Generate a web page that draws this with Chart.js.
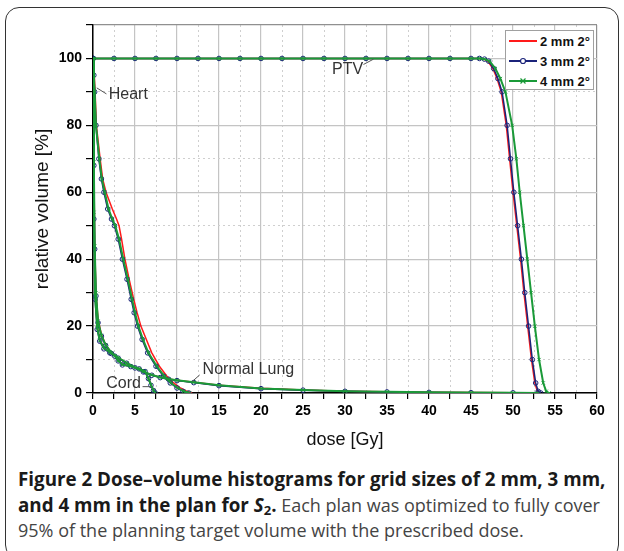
<!DOCTYPE html>
<html>
<head>
<meta charset="utf-8">
<script src="https://cdn.jsdelivr.net/npm/chart.js@4.4.1/dist/chart.umd.min.js"></script>
<style>
  html, body { margin: 0; padding: 0; background: #fff; }
  body { width: 624px; height: 551px; position: relative; overflow: hidden; }
  #frame { position: absolute; left: 5px; top: 7px; width: 614px; height: 552px; border: 1.5px solid #333; border-radius: 14px; box-sizing: border-box; }
  #wrap { position: absolute; left: 0; top: 0; width: 624px; height: 460px; }
  #legend { position: absolute; left: 505px; top: 30px; width: 89px; height: 60px; border: 1px solid #a0a0a0; background: #fff; box-sizing: border-box; }
  .row { position: absolute; left: 3px; height: 14px; display: flex; align-items: center; font: bold 13px 'Liberation Sans', Arial, sans-serif; color: #111; white-space: nowrap; }
  .row svg { margin-right: 3px; }
  #caption { position: absolute; left: 18px; top: 467px; font-family: 'Open Sans', sans-serif; font-size: 18px; line-height: 25.5px; color: #444; white-space: nowrap; }
  #caption b { color: #1a1a1a; font-size: 18.8px; }
  #caption sub { font-size: 13px; vertical-align: -3px; line-height: 0; }
</style>
</head>
<body>
<div id="frame"></div>
<div id="wrap"><canvas id="dvh" width="624" height="460"></canvas></div>
<div id="legend"></div>
<div id="caption"><b>Figure 2 Dose–volume histograms for grid sizes of 2 mm, 3 mm,</b><br><b>and 4 mm in the plan for <i>S</i><sub>2</sub>.</b> Each plan was optimized to fully cover<br>95% of the planning target volume with the prescribed dose.</div>
<script>
const gridNames = ['2 mm 2°', '3 mm 2°', '4 mm 2°'];
const gridColors = ['#ff1a1a', '#1b237a', '#1a9a38'];
const gridMarkers = [false, 'circle', 'crossRot'];

// PTV
const ptvVol = [100, 100, 100, 100, 100, 100, 100, 100, 100, 100, 100, 100, 100, 100, 100, 100, 100, 100, 100, 100,
  99.8, 99.2, 97, 94, 90, 80, 70, 60, 50, 40, 30, 20, 10, 3, 0.5, 0];
const ptvDose2 = [0, 2.5, 5, 7.5, 10, 12.5, 15, 17.5, 20, 22.5, 25, 27.5, 30, 32.5, 35, 37.5, 40, 42.5, 45, 46,
  46.5, 47, 47.6, 48.1, 48.6, 49.2, 49.6, 50.0, 50.45, 50.9, 51.3, 51.75, 52.2, 52.6, 52.9, 53.2];
const ptvDose3 = [0, 2.5, 5, 7.5, 10, 12.5, 15, 17.5, 20, 22.5, 25, 27.5, 30, 32.5, 35, 37.5, 40, 42.5, 45, 46,
  46.6, 47.1, 47.7, 48.2, 48.7, 49.3, 49.7, 50.1, 50.55, 51.0, 51.4, 51.85, 52.3, 52.7, 53.0, 53.3];
const ptvDose4 = [0, 2.5, 5, 7.5, 10, 12.5, 15, 17.5, 20, 22.5, 25, 27.5, 30, 32.5, 35, 37.5, 40, 42.5, 45, 46,
  46.6, 47.2, 47.9, 48.5, 49.1, 49.9, 50.4, 50.8, 51.25, 51.7, 52.15, 52.6, 53.1, 53.6, 53.95, 54.3];

// Heart
const heartVol = [100, 95, 90, 80, 70, 64, 60, 55, 52, 50, 46, 40, 34, 28, 24, 20, 16, 12, 8, 5, 3, 1.5, 0.5, 0];
const heartDose2 = [0, 0.15, 0.25, 0.4, 0.85, 1.15, 1.55, 2.3, 2.8, 3.1, 3.4, 3.8, 4.3, 4.85, 5.25, 5.7, 6.35, 7.0, 7.9, 8.8, 9.6, 10.4, 11.2, 11.8];
const heartDose3 = [0, 0.1, 0.2, 0.35, 0.7, 1.0, 1.3, 1.75, 2.2, 2.55, 3.0, 3.5, 4.05, 4.55, 4.9, 5.3, 5.85, 6.5, 7.5, 8.4, 9.2, 10.0, 10.7, 11.4];
const heartDose4 = [0, 0.1, 0.2, 0.35, 0.75, 1.05, 1.4, 1.85, 2.3, 2.65, 3.1, 3.6, 4.15, 4.65, 5.0, 5.4, 5.95, 6.6, 7.6, 8.5, 9.3, 10.1, 10.8, 11.5];

// Normal lung
const lungDose = [0, 0.1, 0.2, 0.35, 0.6, 1, 1.5, 2.2, 3, 4, 5, 6, 7, 8, 9, 10, 12, 15, 20, 25, 30, 35, 40, 45, 50, 53];
const lungVol2 = [100, 70, 45, 30, 22, 17.5, 14.5, 12, 10.5, 9, 7.6, 6.4, 5.4, 4.7, 4.2, 3.8, 3.2, 2.3, 1.4, 0.9, 0.55, 0.35, 0.2, 0.12, 0.06, 0];
const lungVol3 = [100, 68, 43, 29, 21, 17, 14.2, 11.8, 10.4, 8.9, 7.5, 6.3, 5.3, 4.6, 4.1, 3.7, 3.1, 2.2, 1.3, 0.85, 0.5, 0.32, 0.18, 0.1, 0.05, 0];
const lungVol4 = [100, 69, 44, 30, 21.5, 17.2, 14.4, 12, 10.6, 9.0, 7.6, 6.4, 5.4, 4.7, 4.2, 3.8, 3.2, 2.3, 1.35, 0.9, 0.55, 0.35, 0.2, 0.12, 0.06, 0];

// Cord
const cordDose = [0, 0.1, 0.25, 0.5, 0.8, 1.3, 2, 2.6, 3.0, 3.5, 4.5, 5.5, 6.2, 6.6, 6.9, 7.2, 7.4];
const cordVol2 = [100, 55, 30, 20, 16, 13.5, 12.3, 11.2, 9.8, 8.6, 8.0, 7.3, 6.5, 4.5, 2.5, 0.8, 0];
const cordVol3 = [100, 52, 28, 19, 15.5, 13.2, 12.0, 11.0, 9.6, 8.4, 7.9, 7.2, 6.4, 4.3, 2.3, 0.7, 0];
const cordVol4 = [100, 54, 29, 19.5, 15.8, 13.4, 12.2, 11.1, 9.7, 8.5, 8.0, 7.3, 6.5, 4.4, 2.4, 0.8, 0];

// curve labels, in dose / volume units
const notes = [
  { text: 'PTV', x: 30.3, y: 96.6, from: [32.2, 98.2], to: [33.4, 99.8] },
  { text: 'Heart', x: 4.2, y: 89.2, from: [1.6, 89.4], to: [0.45, 91.2] },
  { text: 'Normal Lung', x: 18.5, y: 7.0, from: [12.7, 5.4], to: [11.8, 3.4] },
  { text: 'Cord', x: 3.65, y: 2.9, from: [5.9, 1.9], to: [6.9, 1.9] }
];

function pts(xs, ys) {
  return xs.map((x, i) => ({ x: x, y: ys[i] }));
}

const curves = [
  [pts(ptvDose2, ptvVol), pts(heartDose2, heartVol), pts(lungDose, lungVol2), pts(cordDose, cordVol2)],
  [pts(ptvDose3, ptvVol), pts(heartDose3, heartVol), pts(lungDose, lungVol3), pts(cordDose, cordVol3)],
  [pts(ptvDose4, ptvVol), pts(heartDose4, heartVol), pts(lungDose, lungVol4), pts(cordDose, cordVol4)]
];

// first dataset is drawn on top, so 4 mm goes first
const datasets = [];
[2, 1, 0].forEach(g => {
  curves[g].forEach(data => {
    datasets.push({
      data: data,
      borderColor: gridColors[g],
      borderWidth: g === 2 ? 2 : 1.5,
      pointStyle: gridMarkers[g],
      pointRadius: gridMarkers[g] ? 2.3 : 0,
      pointBorderColor: gridColors[g],
      pointBackgroundColor: 'rgba(255,255,255,0)',
      pointBorderWidth: 1,
      tension: 0
    });
  });
});

const notesPlugin = {
  id: 'notes',
  afterDatasetsDraw(chart) {
    const { ctx, scales: { x, y } } = chart;
    ctx.save();
    ctx.strokeStyle = '#555';
    ctx.lineWidth = 1;
    ctx.fillStyle = '#333';
    ctx.font = "16px 'Liberation Sans', Arial, sans-serif";
    ctx.textAlign = 'center';
    ctx.textBaseline = 'middle';
    notes.forEach(n => {
      ctx.fillText(n.text, x.getPixelForValue(n.x), y.getPixelForValue(n.y));
      ctx.beginPath();
      ctx.moveTo(x.getPixelForValue(n.from[0]), y.getPixelForValue(n.from[1]));
      ctx.lineTo(x.getPixelForValue(n.to[0]), y.getPixelForValue(n.to[1]));
      ctx.stroke();
    });
    ctx.restore();
  }
};

const tickFont = { family: "'Liberation Sans', Arial, sans-serif", size: 14, weight: 'bold' };
const titleFont = { family: "'Liberation Sans', Arial, sans-serif", size: 18 };

new Chart(document.getElementById('dvh'), {
  type: 'line',
  data: { datasets: datasets },
  plugins: [notesPlugin],
  options: {
    responsive: false,
    animation: false,
    events: [],
    layout: { padding: { left: 0, right: 27, top: 25, bottom: 0 } },
    plugins: { legend: { display: false }, tooltip: { enabled: false } },
    scales: {
      x: {
        type: 'linear', position: 'bottom', min: 0, max: 60,
        afterFit: s => { s.height = 67; },
        ticks: {
          stepSize: 2.5, autoSkip: false, maxRotation: 0, padding: 4,
          color: '#000', font: tickFont,
          callback: v => (v % 5 === 0 ? v : '')
        },
        grid: {
          color: c => (c.tick && c.tick.value % 5 === 0 ? (c.tick.value === 60 ? '#909090' : '#c4c4c4') : 'rgba(0,0,0,0)'),
          lineWidth: 1.2, tickLength: 6, tickColor: '#000', tickWidth: 1.2
        },
        border: { color: '#000', width: 1.5 },
        title: { display: true, text: 'dose [Gy]', color: '#111', font: titleFont, padding: { top: 0, bottom: 9 } }
      },
      x2: {
        type: 'linear', position: 'top', min: 0, max: 60,
        afterFit: s => { s.height = 0; },
        ticks: { display: false, stepSize: 2.5, autoSkip: false },
        grid: {
          drawTicks: false,
          color: c => (c.tick && c.tick.value % 5 !== 0 ? '#cfcfcf' : 'rgba(0,0,0,0)'),
          lineWidth: 1
        },
        border: { display: false, dash: [2, 3] }
      },
      y: {
        type: 'linear', position: 'left', min: 0, max: 110,
        afterFit: s => { s.width = 93; },
        ticks: {
          stepSize: 10, autoSkip: false, padding: 4,
          color: '#000', font: tickFont,
          callback: v => (v % 20 === 0 && v <= 100 ? v : '')
        },
        grid: {
          color: c => (c.tick && (c.tick.value % 20 === 0 || c.tick.value === 110) ? (c.tick.value === 110 ? '#909090' : '#c4c4c4') : 'rgba(0,0,0,0)'),
          lineWidth: 1.2, tickLength: 7, tickColor: '#000', tickWidth: 1.2
        },
        border: { color: '#000', width: 1.5 },
        title: { display: true, text: 'relative volume [%]', color: '#111', font: { family: titleFont.family, size: 19 }, padding: { top: 31, bottom: 0 } }
      },
      y2: {
        type: 'linear', position: 'right', min: 0, max: 110,
        afterFit: s => { s.width = 0; },
        ticks: { display: false, stepSize: 10, autoSkip: false },
        grid: {
          drawTicks: false,
          color: c => (c.tick && c.tick.value % 20 !== 0 && c.tick.value !== 110 ? '#cfcfcf' : 'rgba(0,0,0,0)'),
          lineWidth: 1
        },
        border: { display: false, dash: [2, 3] }
      }
    }
  }
});

// legend box, built from the grid-size lists
const legend = document.getElementById('legend');
gridNames.forEach((name, g) => {
  const row = document.createElement('div');
  row.className = 'row';
  row.style.top = (3 + g * 20) + 'px';
  let mark = '';
  if (gridMarkers[g] === 'circle') {
    mark = '<circle cx="14" cy="6" r="2.5" fill="#fff" stroke="' + gridColors[g] + '" stroke-width="1.2"/>';
  } else if (gridMarkers[g] === 'crossRot') {
    mark = '<path d="M11.5 3.5 L16.5 8.5 M16.5 3.5 L11.5 8.5" stroke="' + gridColors[g] + '" stroke-width="1.2"/>';
  }
  row.innerHTML = '<svg width="28" height="12"><line x1="0" y1="6" x2="28" y2="6" stroke="' + gridColors[g] +
    '" stroke-width="2"/>' + mark + '</svg><span>' + name + '</span>';
  legend.appendChild(row);
});
</script>
</body>
</html>
